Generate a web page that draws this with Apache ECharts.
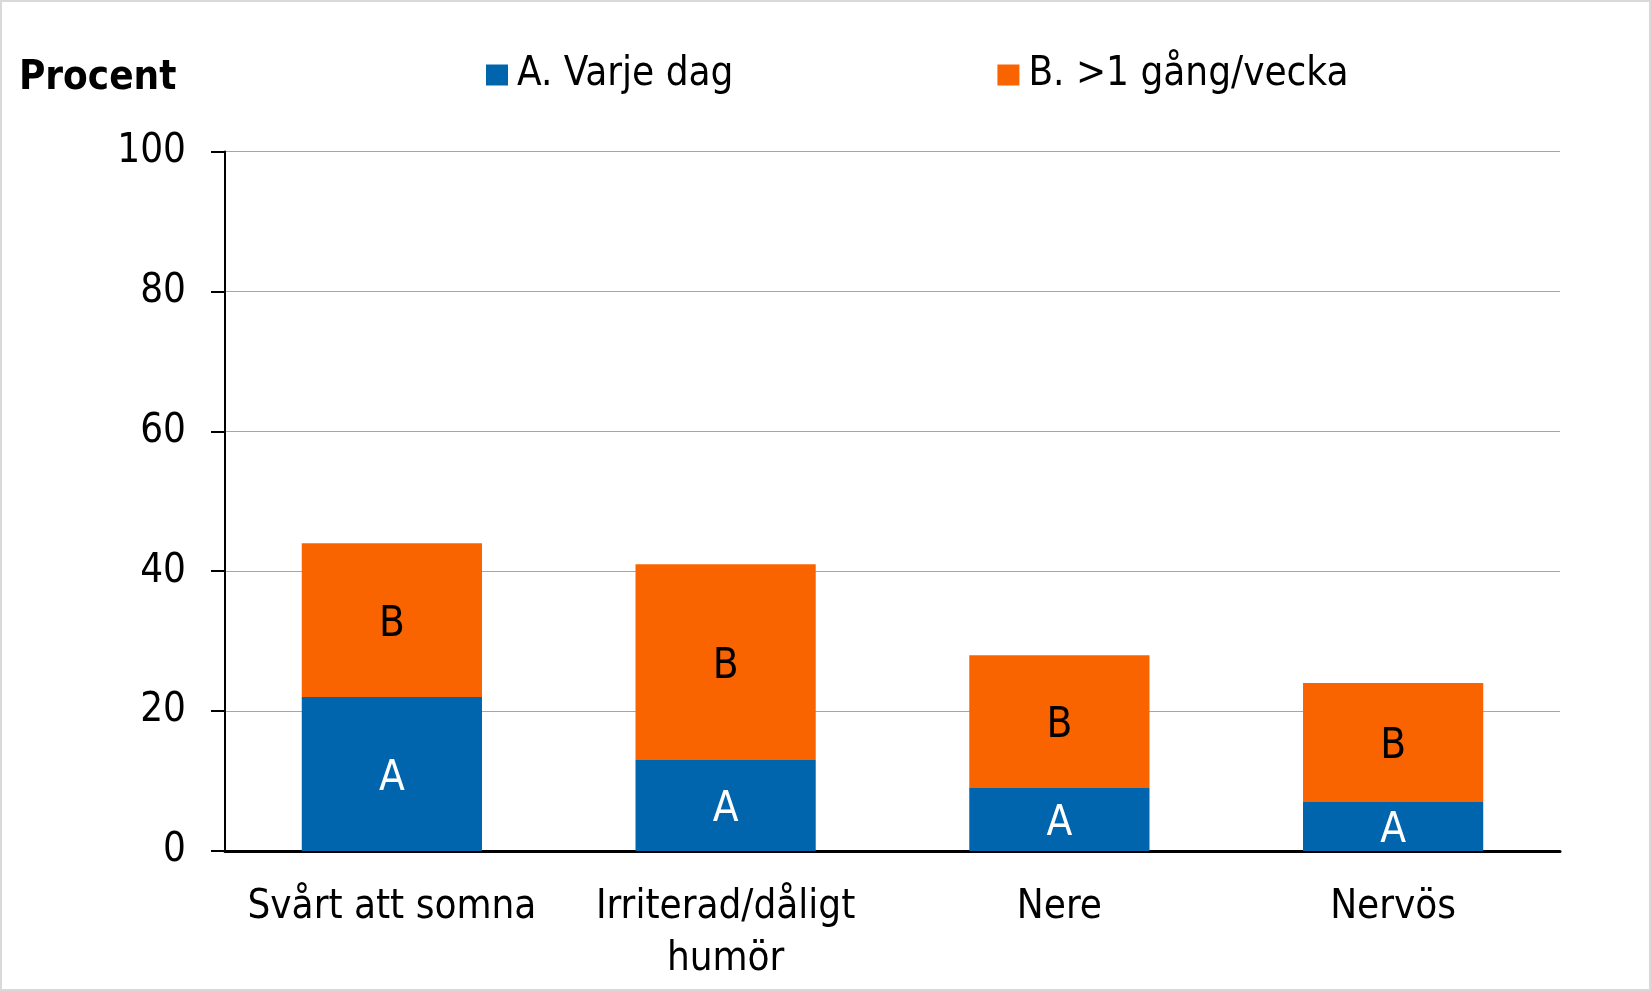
<!DOCTYPE html>
<html>
<head>
<meta charset="utf-8">
<script src="https://cdn.jsdelivr.net/npm/echarts@6/dist/echarts.min.js"></script>
<style>
  html, body { margin: 0; padding: 0; background: #ffffff; }
  #chart { width: 1651px; height: 991px; }
</style>
</head>
<body>
<div id="chart"></div>
<script>
const categories = ['Svårt att somna', 'Irriterad/dåligt\nhumör', 'Nere', 'Nervös'];
const seriesNames = ['A. Varje dag', 'B. >1 gång/vecka'];
const valuesA = [22, 13, 9, 7];
const valuesB = [22, 28, 19, 17];
const yTicks = [0, 20, 40, 60, 80, 100];

const FONT = '"DejaVu Sans Condensed", "DejaVu Sans", sans-serif';
const chart = echarts.init(document.getElementById('chart'), null, { renderer: 'canvas' });

chart.setOption({
  backgroundColor: '#ffffff',
  animation: false,
  title: {
    text: 'Procent',
    left: 14,
    top: 53,
    textStyle: { fontFamily: FONT, fontSize: 40, fontWeight: 'bold', color: '#000000', lineHeight: 42 }
  },
  legend: {
    left: 481,
    top: 50,
    itemWidth: 22,
    itemHeight: 21,
    itemGap: 264,
    icon: 'rect',
    textStyle: { fontFamily: FONT, fontSize: 40, color: '#000000', padding: [0, 0, 0, 4] },
    data: seriesNames
  },
  graphic: [{
    type: 'rect',
    shape: { x: 1, y: 1, width: 1649, height: 989 },
    style: { fill: 'none', stroke: '#d9d9d9', lineWidth: 2 },
    silent: true
  }],
  grid: { left: 225, right: 91, top: 151.5, bottom: 140, containLabel: false },
  xAxis: {
    type: 'category',
    data: categories,
    axisLine: { show: true, lineStyle: { color: '#000000', width: 3 } },
    axisTick: { show: false },
    axisLabel: {
      fontFamily: FONT, fontSize: 40, color: '#000000', margin: 31, lineHeight: 52, interval: 0
    }
  },
  yAxis: {
    type: 'value',
    min: yTicks[0],
    max: yTicks[yTicks.length - 1],
    interval: 20,
    axisLine: { show: true, lineStyle: { color: '#000000', width: 2 } },
    axisTick: { show: true, inside: false, length: 14, lineStyle: { color: '#000000', width: 2 } },
    axisLabel: { fontFamily: FONT, fontSize: 40, color: '#000000', margin: 39 },
    splitLine: { show: true, lineStyle: { color: '#a6a6a6', width: 1.2 } }
  },
  series: [
    {
      name: seriesNames[0],
      type: 'bar',
      stack: 'total',
      barWidth: '54%',
      data: valuesA,
      itemStyle: { color: '#0065ad' },
      label: { show: true, position: 'inside', offset: [0, 5], formatter: 'A', fontFamily: FONT, fontSize: 42, color: '#ffffff' }
    },
    {
      name: seriesNames[1],
      type: 'bar',
      stack: 'total',
      barWidth: '54%',
      data: valuesB,
      itemStyle: { color: '#f96400' },
      label: { show: true, position: 'inside', offset: [0, 5], formatter: 'B', fontFamily: FONT, fontSize: 42, color: '#000000' }
    }
  ]
});
</script>
</body>
</html>
